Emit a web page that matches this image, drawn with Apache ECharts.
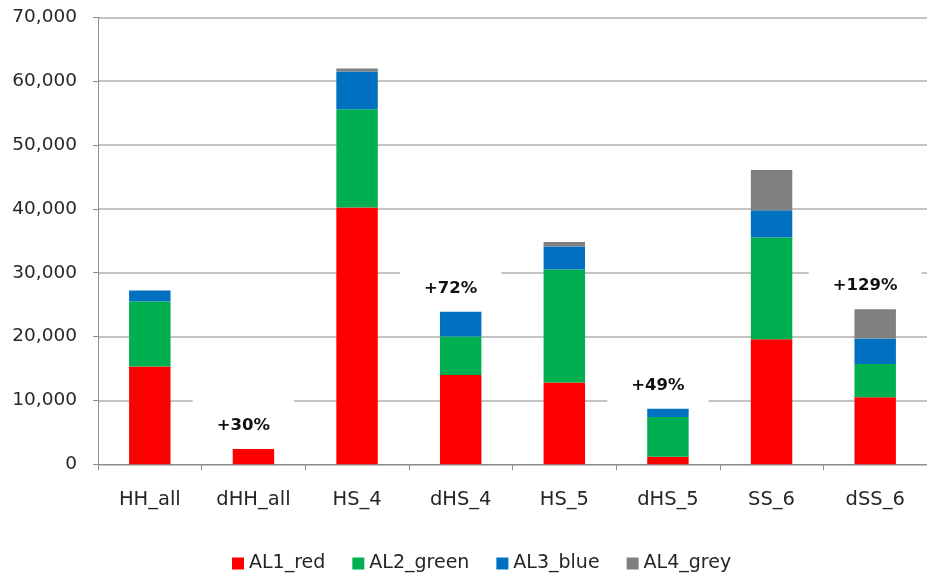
<!DOCTYPE html>
<html>
<head>
<meta charset="utf-8">
<script src="https://cdn.jsdelivr.net/npm/echarts@6/dist/echarts.min.js"></script>
<style>
  html, body { margin: 0; padding: 0; background: #fff; }
  #chart { width: 927px; height: 573px; }
</style>
</head>
<body>
<div id="chart"></div>
<script>
// Categories and stacked component values
const categories = ['HH_all', 'dHH_all', 'HS_4', 'dHS_4', 'HS_5', 'dHS_5', 'SS_6', 'dSS_6'];
const al1Red   = [15300, 2400, 40200, 14000, 12800, 1200, 19600, 10500];
const al2Green = [10200,    0, 15400,  6000, 17700, 6200, 15900,  5200];
const al3Blue  = [ 1700,    0,  5900,  3900,  3600, 1300,  4300,  4000];
const al4Grey  = [    0,    0,   500,     0,   700,    0,  6300,  4600];
// Change annotations shown above the "d" columns
const changeLabels = ['', '+30%', '', '+72%', '', '+49%', '', '+129%'];
const yTicks = [0, 10000, 20000, 30000, 40000, 50000, 60000, 70000];

const FONT = 'DejaVu Sans';
const TEXT = '#262626';

const chart = echarts.init(document.getElementById('chart'), null, { renderer: 'canvas' });

function stackSeries(name, values, color) {
  return {
    name: name,
    type: 'bar',
    stack: 'total',
    barWidth: '40%',
    itemStyle: { color: color },
    emphasis: { disabled: true },
    data: values
  };
}

// Zero-height series sitting on top of each stack, carrying the change text
const changeSeries = {
  name: 'change',
  type: 'bar',
  stack: 'total',
  barWidth: '40%',
  silent: true,
  itemStyle: { color: 'transparent' },
  data: changeLabels.map(t => ({
    value: 0,
    label: { show: t !== '' }
  })),
  label: {
    position: 'top',
    distance: 4,
    offset: [-10, -2],
    formatter: p => changeLabels[p.dataIndex],
    fontFamily: FONT,
    fontWeight: 'bold',
    fontSize: 16.5,
    lineHeight: 18,
    color: '#111',
    backgroundColor: '#ffffff',
    padding: [22, 24, 8, 24]
  },
  z: 3
};

chart.setOption({
  animation: false,
  backgroundColor: '#ffffff',
  textStyle: { fontFamily: FONT },
  grid: { left: 98, right: -16, top: 17.3, bottom: 108.7, containLabel: false },
  legend: {
    data: ['AL1_red', 'AL2_green', 'AL3_blue', 'AL4_grey'],
    left: 227,
    top: 549,
    icon: 'rect',
    itemWidth: 12,
    itemHeight: 12,
    itemGap: 27,
    textStyle: { fontFamily: FONT, fontSize: 19, color: TEXT }
  },
  xAxis: {
    type: 'category',
    data: categories,
    axisLine: { lineStyle: { color: '#8c8c8c', width: 1 } },
    axisTick: { show: true, length: 6, alignWithLabel: false, lineStyle: { color: '#8c8c8c' } },
    axisLabel: { fontFamily: FONT, fontSize: 19.5, color: TEXT, margin: 26, interval: 0 },
    splitLine: { show: false }
  },
  yAxis: {
    type: 'value',
    min: yTicks[0],
    max: yTicks[yTicks.length - 1],
    interval: yTicks[1] - yTicks[0],
    axisLine: { show: true, lineStyle: { color: '#8c8c8c', width: 1 } },
    axisTick: { show: true, inside: false, length: 5, lineStyle: { color: '#8c8c8c' } },
    axisLabel: {
      fontFamily: FONT, fontSize: 18.5, color: TEXT, margin: 21,
      formatter: v => v.toLocaleString('en-US')
    },
    splitLine: { show: true, lineStyle: { color: '#b0b0b0', width: 1.5 } }
  },
  series: [
    stackSeries('AL1_red', al1Red, '#FF0000'),
    stackSeries('AL2_green', al2Green, '#00B050'),
    stackSeries('AL3_blue', al3Blue, '#0070C0'),
    stackSeries('AL4_grey', al4Grey, '#808080'),
    changeSeries
  ]
});
</script>
</body>
</html>
